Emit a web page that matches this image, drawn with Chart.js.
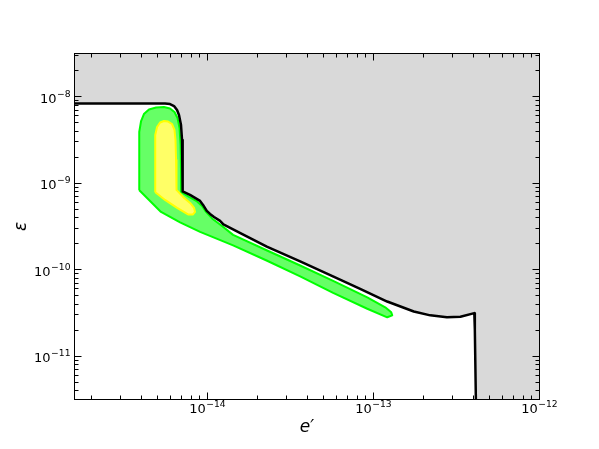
<!DOCTYPE html>
<html>
<head>
<meta charset="utf-8">
<script src="https://cdn.jsdelivr.net/npm/chart.js@4/dist/chart.umd.min.js"></script>
<style>
  html, body { margin: 0; padding: 0; background: #fff; }
  canvas { display: block; }
</style>
</head>
<body>
<canvas id="limitChart" width="599" height="449"></canvas>
<script>
// Axis ranges (log scales)
const xMin = 1.585e-15, xMax = 1e-12;
const yMin = 3.162e-12, yMax = 3.162e-8;

// Tick values and labels (base, exponent)
const xMajor = [1e-14, 1e-13, 1e-12];
const xTickLabels = [['10', '−14'], ['10', '−13'], ['10', '−12']];
const yMajor = [1e-11, 1e-10, 1e-9, 1e-8];
const yTickLabels = [['10', '−11'], ['10', '−10'], ['10', '−9'], ['10', '−8']];
const xDecades = [1e-16, 1e-15, 1e-14, 1e-13];
const yDecades = [1e-12, 1e-11, 1e-10, 1e-9, 1e-8];

// Excluded region boundary (black curve)
const limitX = [1.5e-15, 5.56e-15, 5.96e-15, 6.30e-15, 6.57e-15, 6.75e-15, 6.94e-15, 7.04e-15,
  7.09e-15, 7.11e-15, 7.86e-15, 8.43e-15, 9.04e-15, 9.42e-15, 9.92e-15, 1.038e-14, 1.097e-14,
  1.193e-14, 1.249e-14, 1.57e-14, 2.28e-14, 3.62e-14, 5.75e-14, 8.32e-14, 1.21e-13, 1.75e-13,
  2.20e-13, 2.77e-13, 3.34e-13, 4.05e-13, 4.08e-13, 4.14e-13];
const limitY = [8.35e-9, 8.35e-9, 8.23e-9, 7.81e-9, 7.02e-9, 6.15e-9, 4.71e-9, 3.16e-9,
  1.86e-9, 8.04e-10, 7.33e-10, 6.77e-10, 6.25e-10, 5.62e-10, 4.79e-10, 4.42e-10, 4.08e-10,
  3.67e-10, 3.34e-10, 2.67e-10, 1.85e-10, 1.25e-10, 8.35e-11, 6.02e-11, 4.29e-11, 3.29e-11,
  2.97e-11, 2.82e-11, 2.86e-11, 3.15e-11, 2.02e-11, 3.0e-12];

// Outer (green) allowed region
const greenX = [3.88e-15, 3.88e-15, 3.90e-15, 3.99e-15, 4.15e-15, 4.45e-15, 4.91e-15, 5.48e-15,
  5.96e-15, 6.34e-15, 6.61e-15, 6.80e-15, 6.90e-15, 6.94e-15, 6.94e-15, 7.76e-15, 8.67e-15,
  9.29e-15, 9.82e-15, 1.067e-14, 1.226e-14, 1.429e-14, 2.29e-14, 3.62e-14, 5.72e-14, 9.18e-14,
  1.178e-13, 1.28e-13, 1.298e-13, 1.211e-13, 9.18e-14, 5.72e-14, 3.62e-14, 2.29e-14, 1.429e-14,
  9.04e-15, 6.85e-15, 5.26e-15, 3.88e-15];
const greenY = [8.37e-10, 2.42e-9, 3.91e-9, 5.24e-9, 6.31e-9, 7.12e-9, 7.50e-9, 7.60e-9,
  7.31e-9, 6.66e-9, 5.68e-9, 4.35e-9, 2.77e-9, 1.42e-9, 7.93e-10, 6.95e-10, 6.17e-10,
  5.47e-10, 4.66e-10, 3.92e-10, 3.21e-10, 2.53e-10, 1.67e-10, 1.12e-10, 7.44e-11, 4.80e-11,
  3.68e-11, 3.22e-11, 2.97e-11, 2.82e-11, 3.54e-11, 5.41e-11, 8.39e-11, 1.27e-10, 1.91e-10,
  2.74e-10, 3.53e-10, 4.66e-10, 8.37e-10];

// Inner (yellow) allowed region
const yellowX = [4.84e-15, 4.84e-15, 4.87e-15, 4.98e-15, 5.19e-15, 5.48e-15, 5.80e-15, 6.13e-15,
  6.34e-15, 6.43e-15, 6.48e-15, 6.52e-15, 7.14e-15, 7.87e-15, 8.32e-15, 8.43e-15, 8.20e-15,
  7.65e-15, 6.57e-15, 5.56e-15, 4.84e-15];
const yellowY = [7.93e-10, 2.42e-9, 3.61e-9, 4.47e-9, 5.04e-9, 5.24e-9, 5.17e-9, 4.84e-9,
  4.13e-9, 3.16e-9, 1.86e-9, 8.37e-10, 6.95e-10, 5.92e-10, 5.19e-10, 4.66e-10, 4.36e-10,
  4.36e-10, 5.19e-10, 6.41e-10, 7.93e-10];

const toPoints = (xs, ys) => xs.map((x, i) => ({ x, y: ys[i] }));
const sameValue = (a, b) => Math.abs(Math.log10(a) - Math.log10(b)) < 1e-6;

const buildTicks = (decades, majors, lo, hi) => {
  const vals = [];
  decades.forEach(d => {
    for (let m = 1; m <= 9; m++) {
      const v = m === 1 ? d : m * d;
      if (v >= lo * 0.999999 && v <= hi * 1.000001) vals.push(v);
    }
  });
  majors.forEach(v => { if (!vals.some(t => sameValue(t, v))) vals.push(v); });
  return vals.sort((a, b) => a - b).map(value => ({ value }));
};

const BASE_FONT = '13px "DejaVu Sans"';
const SUP_FONT = '9.2px "DejaVu Sans"';

// draws "10" with a raised exponent; anchor is 'center' or 'right'
const drawPower = (ctx, label, x, baseline, anchor) => {
  const [base, exp] = label;
  ctx.font = BASE_FONT;
  const wb = ctx.measureText(base).width;
  ctx.font = SUP_FONT;
  const we = ctx.measureText(exp).width;
  const total = wb + we + 0.5;
  const x0 = anchor === 'right' ? x - total : x - total / 2;
  ctx.textAlign = 'left';
  ctx.textBaseline = 'alphabetic';
  ctx.font = BASE_FONT;
  ctx.fillText(base, x0, baseline);
  ctx.font = SUP_FONT;
  ctx.fillText(exp, x0 + wb + 0.5, baseline - 6);
};

// inward ticks on all four sides, the frame and the power-of-ten labels
const frameAndTicks = {
  id: 'frameAndTicks',
  afterDatasetsDraw(chart) {
    const { ctx, chartArea: a, scales: { x, y } } = chart;
    ctx.save();
    ctx.strokeStyle = '#000';
    ctx.lineWidth = 1;
    ctx.beginPath();
    x.ticks.forEach(t => {
      const px = Math.floor(x.getPixelForValue(t.value)) + 0.5;
      const len = xMajor.some(m => sameValue(m, t.value)) ? 7 : 4;
      ctx.moveTo(px, a.bottom); ctx.lineTo(px, a.bottom - len);
      ctx.moveTo(px, a.top); ctx.lineTo(px, a.top + len);
    });
    y.ticks.forEach(t => {
      const py = Math.floor(y.getPixelForValue(t.value)) + 0.5;
      const len = yMajor.some(m => sameValue(m, t.value)) ? 7 : 4;
      ctx.moveTo(a.left, py); ctx.lineTo(a.left + len, py);
      ctx.moveTo(a.right, py); ctx.lineTo(a.right - len, py);
    });
    ctx.stroke();
    ctx.strokeRect(a.left, a.top, a.right - a.left, a.bottom - a.top);

    ctx.fillStyle = '#000';
    xMajor.forEach((v, i) => {
      drawPower(ctx, xTickLabels[i], x.getPixelForValue(v), a.bottom + 13, 'center');
    });
    yMajor.forEach((v, i) => {
      drawPower(ctx, yTickLabels[i], a.left - 4, y.getPixelForValue(v) + 6, 'right');
    });
    ctx.restore();
  }
};

const titleFont = { family: 'DejaVu Sans', size: 17, style: 'italic' };

new Chart(document.getElementById('limitChart').getContext('2d'), {
  type: 'line',
  data: {
    datasets: [
      {
        data: toPoints(limitX, limitY),
        borderColor: '#000',
        borderWidth: 2.5,
        borderJoinStyle: 'round',
        pointRadius: 0,
        fill: false,
        order: 0
      },
      {
        data: toPoints(yellowX, yellowY),
        borderColor: '#ffff00',
        backgroundColor: '#ffff66',
        borderWidth: 2,
        borderJoinStyle: 'round',
        pointRadius: 0,
        fill: 'shape',
        order: 1
      },
      {
        data: toPoints(greenX, greenY),
        borderColor: '#00ff00',
        backgroundColor: '#66ff66',
        borderWidth: 2,
        borderJoinStyle: 'round',
        pointRadius: 0,
        fill: 'shape',
        order: 2
      },
      {
        data: toPoints(limitX.concat([xMax]), limitY.concat([3.0e-12])),
        borderColor: 'rgba(0,0,0,0)',
        backgroundColor: '#d9d9d9',
        borderWidth: 0,
        pointRadius: 0,
        fill: 'end',
        order: 3
      }
    ]
  },
  options: {
    responsive: false,
    animation: false,
    events: [],
    layout: { padding: { top: 53.5, right: 59.5, left: 0, bottom: 0 } },
    plugins: { legend: { display: false }, tooltip: { enabled: false } },
    scales: {
      x: {
        type: 'logarithmic',
        position: 'bottom',
        min: xMin,
        max: xMax,
        bounds: 'data',
        grid: { display: false, drawTicks: false },
        border: { display: false },
        afterBuildTicks: (s) => { s.ticks = buildTicks(xDecades, xMajor, xMin, xMax); },
        afterFit: (s) => { s.height = 49.5; },
        ticks: { display: false },
        title: { display: true, text: 'e′', color: '#000', font: titleFont, padding: { top: 0, bottom: 11 } }
      },
      y: {
        type: 'logarithmic',
        position: 'left',
        min: yMin,
        max: yMax,
        bounds: 'data',
        grid: { display: false, drawTicks: false },
        border: { display: false },
        afterBuildTicks: (s) => { s.ticks = buildTicks(yDecades, yMajor, yMin, yMax); },
        afterFit: (s) => { s.width = 74.5; },
        ticks: { display: false },
        title: { display: true, text: 'ε', color: '#000', font: titleFont, padding: { top: 11, bottom: 0 } }
      }
    }
  },
  plugins: [frameAndTicks]
});
</script>
</body>
</html>
